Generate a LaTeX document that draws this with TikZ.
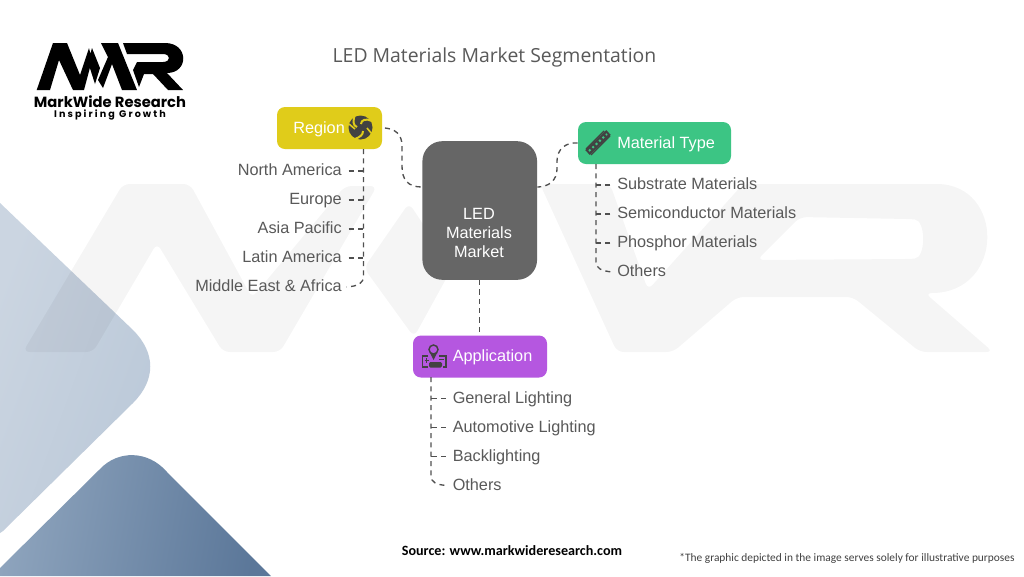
\documentclass[tikz,border=0pt]{standalone}
\usepackage{fontspec}
\setmainfont{Liberation Sans}
\newfontfamily\titlefont{Open Sans}
\newfontfamily\srcfont{Carlito}
\newfontfamily\logofont{Poppins}
\newfontfamily\logosub[LetterSpace=22]{Poppins}
\definecolor{txtg}{HTML}{595959}
\definecolor{conng}{HTML}{505050}
\definecolor{boxg}{HTML}{666666}
\definecolor{regc}{HTML}{E0CC1A}
\definecolor{matc}{HTML}{3CC584}
\definecolor{appc}{HTML}{B557E0}
\definecolor{icong}{HTML}{424242}
\definecolor{liteA}{HTML}{CBD5E1}
\definecolor{liteB}{HTML}{BAC8D8}
\definecolor{darkA}{HTML}{8EA4BD}
\definecolor{darkB}{HTML}{5B7799}
\tikzset{
  conn/.style={draw=conng,line width=1pt,dash pattern=on 3.8pt off 3.2pt},
  catbox/.style={rectangle,rounded corners=6pt,inner sep=0pt,minimum height=31.5pt},
  catlabel/.style={text=white,font=\fontsize{12.2}{14}\selectfont,inner sep=0pt,text height=9.2pt,text depth=2pt},
  itemr/.style={text=txtg,font=\fontsize{12.2}{14}\selectfont,inner sep=0pt,text height=9.2pt,text depth=2pt,anchor=east},
  iteml/.style={text=txtg,font=\fontsize{12.2}{14}\selectfont,inner sep=0pt,text height=9.2pt,text depth=2pt,anchor=west},
}
\begin{document}
\begin{tikzpicture}[x=.75pt,y=-.75pt]
\useasboundingbox (0,0) rectangle (1024,576);
\fill[white] (0,0) rectangle (1024,576);
% blue shapes
\shade[shading=axis,left color=liteA,right color=liteB,shading angle=70]
  (0,203) -- (133,330) .. controls (156,353) and (156,380) .. (133,403) -- (3,531) -- (0,533) -- cycle;
\shade[shading=axis,left color=darkA,right color=darkB,shading angle=80]
  (0,568) -- (100,469) .. controls (118,450) and (148,450) .. (167,472) -- (271,576) -- (0,576) -- cycle;
% watermark
\fill[black,fill opacity=.04,rounded corners=5pt]
  (23,352) -- (123,184) -- (190,184) -- (252,298) -- (345,186) -- (377,186) -- (280,352) -- (223,352) -- (157,243) -- (93,352) -- cycle
  (409,203) -- (452,268) -- (414,337) -- (364,268) -- cycle
  (540,184) -- (610,184) -- (648,290) -- (743,184) -- (930,184)
    .. controls (1005,184) and (1005,293) .. (925,293) -- (993,352) -- (920,352) -- (853,297) -- (737,297) -- (673,352) -- (617,352) -- cycle
  (800,217) -- (757,260) -- (908,259) .. controls (926,258) and (926,220) .. (908,219) -- cycle;
% title
\node[font=\titlefont\fontsize{14.55}{18}\selectfont,text=txtg,inner sep=0pt] (title) at (494.5,57) {LED Materials Market Segmentation};
% logo
\fill[black]
  (36.7,90) -- (53,43) -- (67,43) -- (80,75) -- (89,48) -- (92,60) -- (84,90) -- (73,90) -- (59,60) -- (50,90) -- cycle
  (92,48) -- (100,68) -- (95,84) -- (88,62) -- cycle
  (101,43) -- (118,43) -- (137,90) -- (122,90) -- (112,64) -- (103,88) -- (98,80) -- (108,57) -- cycle
  (123,43) -- (165,43) .. controls (189,43) and (189,73) .. (167,73) -- (183,90) -- (168,90) -- (153,74) -- (144,74) -- (139,87) -- (133,70) -- (137,62) -- (163,62) .. controls (171,62) and (171,54) .. (163,54) -- (127,54) -- cycle;
\node[font=\logofont\bfseries\fontsize{11.05}{13}\selectfont,text=black,inner sep=0pt] (brand) at (110,101.5) {MarkWide Research};
\node[font=\logosub\bfseries\fontsize{7.2}{9}\selectfont,text=black,inner sep=0pt] (slogan) at (110,114.5) {Inspiring Growth};
% central
\node[rectangle,rounded corners=15pt,fill=boxg,minimum width=86pt,minimum height=104pt,inner sep=0pt] (center) at (479.75,210.5) {};
\node[text=white,font=\fontsize{12.2}{14.6}\selectfont,align=center,inner sep=0pt] (centerL) at (479,233) {LED\\Materials\\Market};
% category boxes
\node[catbox,fill=regc,minimum width=78.75pt] (region) at (329.5,128) {};
\node[catbox,fill=matc,minimum width=114.75pt] (material) at (654.5,143) {};
\node[catbox,fill=appc,minimum width=100.5pt] (application) at (480,356.5) {};
\node[catlabel,anchor=west] (regionL) at (293,129) {Region};
\node[catlabel,anchor=west] (materialL) at (617,144) {Material Type};
\node[catlabel,anchor=west] (applicationL) at (452.5,357) {Application};
% region items
\node[itemr] (r1) at (342,171) {North America};
\node[itemr] (r2) at (342,200) {Europe};
\node[itemr] (r3) at (342,229) {Asia Pacific};
\node[itemr] (r4) at (342,258) {Latin America};
\node[itemr] (r5) at (342,287) {Middle East \& Africa};
% material items
\node[iteml] (m1) at (617,185) {Substrate Materials};
\node[iteml] (m2) at (617,214) {Semiconductor Materials};
\node[iteml] (m3) at (617,243) {Phosphor Materials};
\node[iteml] (m4) at (617,272) {Others};
% application items
\node[iteml] (a1) at (452.5,398.5) {General Lighting};
\node[iteml] (a2) at (452.5,427.5) {Automotive Lighting};
\node[iteml] (a3) at (452.5,456.5) {Backlighting};
\node[iteml] (a4) at (452.5,485.5) {Others};
% main connectors
\draw[conn] ([xshift=2pt]region.east) .. controls (395,129) and (402,134) .. (402,146) -- (402,166) .. controls (402,180) and (408,187) .. ([yshift=17.6pt]center.west);
\draw[conn] (material.west) .. controls (566,142) and (557,149) .. (557,161) -- (557,169) .. controls (557,180) and (549,187) .. ([yshift=17.6pt]center.east);
\draw[conn] (center.south) -- (center.south |- application.north);
% list spines
\coordinate (rs) at (363.5,149);
\coordinate (ms) at (596,164);
\coordinate (as) at (431,377);
\draw[conn] (rs) -- (363.5,276) .. controls (363.5,283) and (359,286) .. ([xshift=3.5pt]r5.east);
\foreach \n in {r1,r2,r3,r4}{\draw[conn] ([xshift=5pt]\n.east) -- (rs |- \n.east);}
\draw[conn] (ms) -- (596,262) .. controls (596,268) and (601,271) .. ([xshift=-3.5pt]m4.west);
\foreach \n in {m1,m2,m3}{\draw[conn] ([xshift=-5pt]\n.west) -- (ms |- \n.west);}
\draw[conn] (as) -- (431,476) .. controls (431,482) and (436,485) .. ([xshift=-3.5pt]a4.west);
\foreach \n in {a1,a2,a3}{\draw[conn] ([xshift=-5pt]\n.west) -- (as |- \n.west);}
% globe icon
\fill[icong] (360.5,127.5) circle[radius=12];
\draw[regc,line width=1.5pt] (356,113) .. controls (352,120) and (353,126) .. (357,127);
\draw[regc,line width=1.5pt] (372,121) .. controls (366,118) and (361,120) .. (361,124);
\draw[regc,line width=1.5pt] (355,139) .. controls (360,137) and (363,135) .. (363,131);
\draw[regc,line width=1.2pt] (349,124) -- (355,129);
\draw[regc,line width=1.2pt] (367,128) -- (372,134);
% led strip icon
\draw[icong,line width=5pt] (587.5,152.5) -- (608.5,132.5);
\draw[matc,line width=1.5pt,dash pattern=on 1.5pt off 2pt] (589,151) -- (607,134);
\draw[icong,line width=1pt] (586,149) -- (604,131);
\draw[icong,line width=1pt] (591,155) -- (610,136);
% application icon
\draw[icong,line width=1.1pt] (433.5,349.5) circle[radius=4.5];
\fill[icong] (430,353) -- (437,353) -- (433.5,360) -- cycle;
\fill[icong,rounded corners=1pt] (429,362) rectangle (442,367.5);
\draw[icong,line width=1pt] (428,356) -- (422.5,356) -- (422.5,367) -- (428,367);
\draw[icong,line width=1pt] (439,356) -- (446,356) -- (446,367) -- (443,367);
\draw[icong,line width=.8pt] (424.5,360.5) -- (429,360.5) (426.75,358.2) -- (426.75,362.8);
\draw[icong,line width=.8pt] (439,359.5) -- (443.5,359.5);
% footer
\node[font=\srcfont\bfseries\fontsize{10.6}{13}\selectfont,text=black,inner sep=0pt] (source) at (512,551) {Source: www.markwideresearch.com};
\node[font=\srcfont\fontsize{8.55}{11}\selectfont,text=black!75,inner sep=0pt] (note) at (847,558) {*The graphic depicted in the image serves solely for illustrative purposes};
\end{tikzpicture}
\end{document}
